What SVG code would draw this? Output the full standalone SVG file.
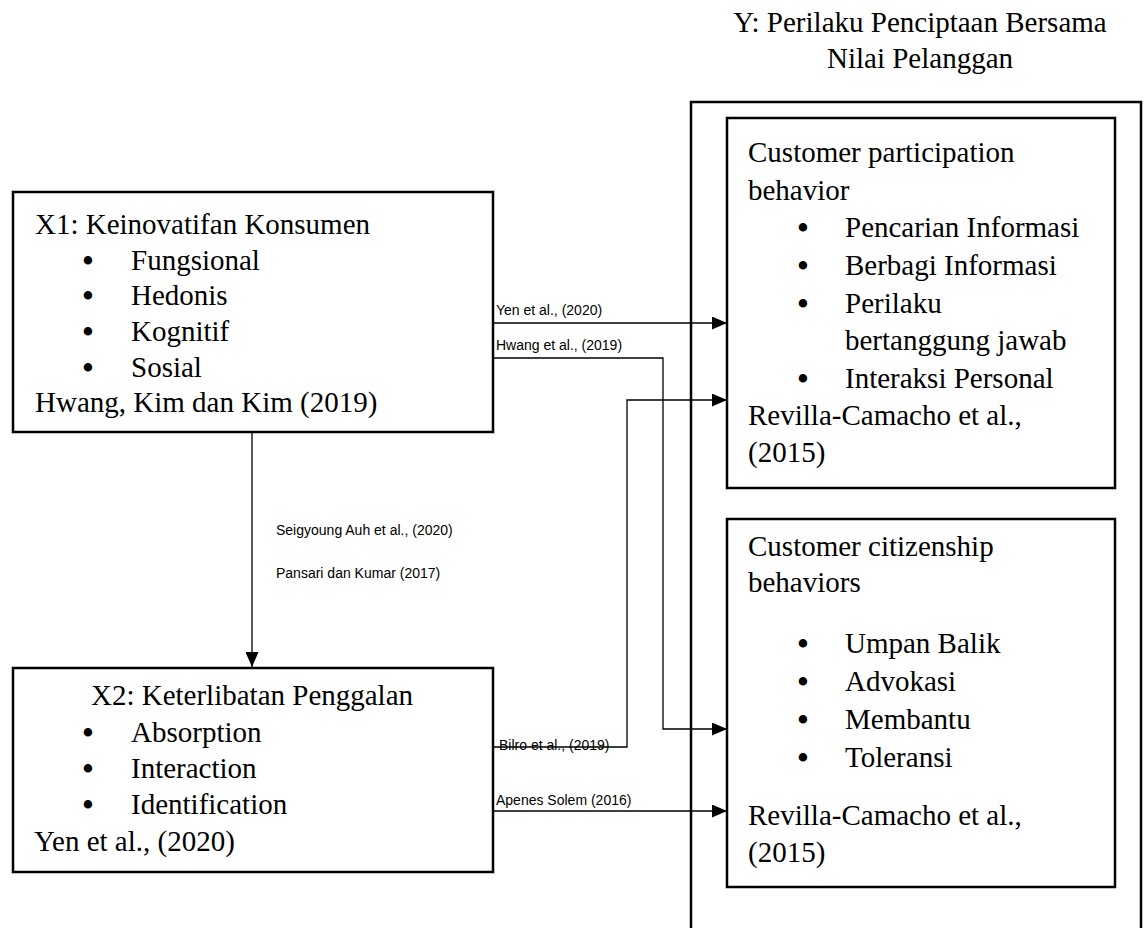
<svg xmlns="http://www.w3.org/2000/svg" width="1144" height="928" viewBox="0 0 1144 928">
<style>
.box{fill:none;stroke:#000;stroke-width:2.5}
.t{font-family:"Liberation Serif","Times New Roman",serif;font-size:29px;fill:#000}
.b{font-family:"Liberation Serif","Times New Roman",serif;font-size:31px;font-weight:bold;fill:#000;text-anchor:middle}
.lbl{font-family:"Liberation Sans",Arial,sans-serif;font-size:14px;fill:#000}
.con{fill:none;stroke:#000;stroke-width:1.3}
</style>
<defs>
<marker id="arr" markerUnits="userSpaceOnUse" markerWidth="15" markerHeight="13" refX="15" refY="6.5" orient="auto">
<path d="M0,0 L15,6.5 L0,13 z" fill="#000"/>
</marker>
</defs>
<rect width="1144" height="928" fill="#fff"/>

<g id="title">
<text class="t" x="920" y="32" text-anchor="middle">Y: Perilaku Penciptaan Bersama</text>
<text class="t" x="920" y="68" text-anchor="middle">Nilai Pelanggan</text>
</g>

<g id="Y">
<path class="box" d="M691,940 V102 H1141 V940"/>
</g>

<g id="X1">
<rect class="box" x="13" y="192" width="480" height="240"/>
<text class="t" x="35" y="234">X1: Keinovatifan Konsumen</text>
<text class="b" x="88" y="271">•</text><text class="t" x="131" y="270">Fungsional</text>
<text class="b" x="88" y="306">•</text><text class="t" x="131" y="305">Hedonis</text>
<text class="b" x="88" y="342">•</text><text class="t" x="131" y="341">Kognitif</text>
<text class="b" x="88" y="378">•</text><text class="t" x="131" y="377">Sosial</text>
<text class="t" x="35" y="412">Hwang, Kim dan Kim (2019)</text>
</g>

<g id="X2">
<rect class="box" x="13" y="668" width="480" height="204"/>
<text class="t" x="252" y="705" text-anchor="middle">X2: Keterlibatan Penggalan</text>
<text class="b" x="88" y="743">•</text><text class="t" x="131" y="742">Absorption</text>
<text class="b" x="88" y="779">•</text><text class="t" x="131" y="778">Interaction</text>
<text class="b" x="88" y="815">•</text><text class="t" x="131" y="814">Identification</text>
<text class="t" x="34" y="851">Yen et al., (2020)</text>
</g>

<g id="CPB">
<rect class="box" x="727" y="118" width="388" height="370"/>
<text class="t" x="748" y="162">Customer participation</text>
<text class="t" x="748" y="200">behavior</text>
<text class="b" x="803" y="238">•</text><text class="t" x="845" y="237">Pencarian Informasi</text>
<text class="b" x="803" y="276">•</text><text class="t" x="845" y="275">Berbagi Informasi</text>
<text class="b" x="803" y="314">•</text><text class="t" x="845" y="313">Perilaku</text>
<text class="t" x="845" y="350">bertanggung jawab</text>
<text class="b" x="803" y="389">•</text><text class="t" x="845" y="388">Interaksi Personal</text>
<text class="t" x="748" y="425">Revilla-Camacho et al.,</text>
<text class="t" x="748" y="462">(2015)</text>
</g>

<g id="CCB">
<rect class="box" x="727" y="519" width="388" height="368"/>
<text class="t" x="748" y="556">Customer citizenship</text>
<text class="t" x="748" y="592">behaviors</text>
<text class="b" x="803" y="654">•</text><text class="t" x="845" y="653">Umpan Balik</text>
<text class="b" x="803" y="692">•</text><text class="t" x="845" y="691">Advokasi</text>
<text class="b" x="803" y="730">•</text><text class="t" x="845" y="729">Membantu</text>
<text class="b" x="803" y="768">•</text><text class="t" x="845" y="767">Toleransi</text>
<text class="t" x="748" y="825">Revilla-Camacho et al.,</text>
<text class="t" x="748" y="862">(2015)</text>
</g>

<g id="connectors">
<path class="con" d="M494,323 H727" marker-end="url(#arr)"/>
<path class="con" d="M494,358 H663 V729 H727" marker-end="url(#arr)"/>
<path class="con" d="M494,747 H627 V400 H727" marker-end="url(#arr)"/>
<path class="con" d="M494,811 H727" marker-end="url(#arr)"/>
<path class="con" d="M252,433 V667" marker-end="url(#arr)"/>
<text class="lbl" x="496" y="315">Yen et al., (2020)</text>
<text class="lbl" x="496" y="350">Hwang et al., (2019)</text>
<text class="lbl" x="276" y="535">Seigyoung Auh et al., (2020)</text>
<text class="lbl" x="276" y="578">Pansari dan Kumar (2017)</text>
<text class="lbl" x="499" y="750">Bilro et al., (2019)</text>
<text class="lbl" x="496" y="805">Apenes Solem (2016)</text>
</g>
</svg>
